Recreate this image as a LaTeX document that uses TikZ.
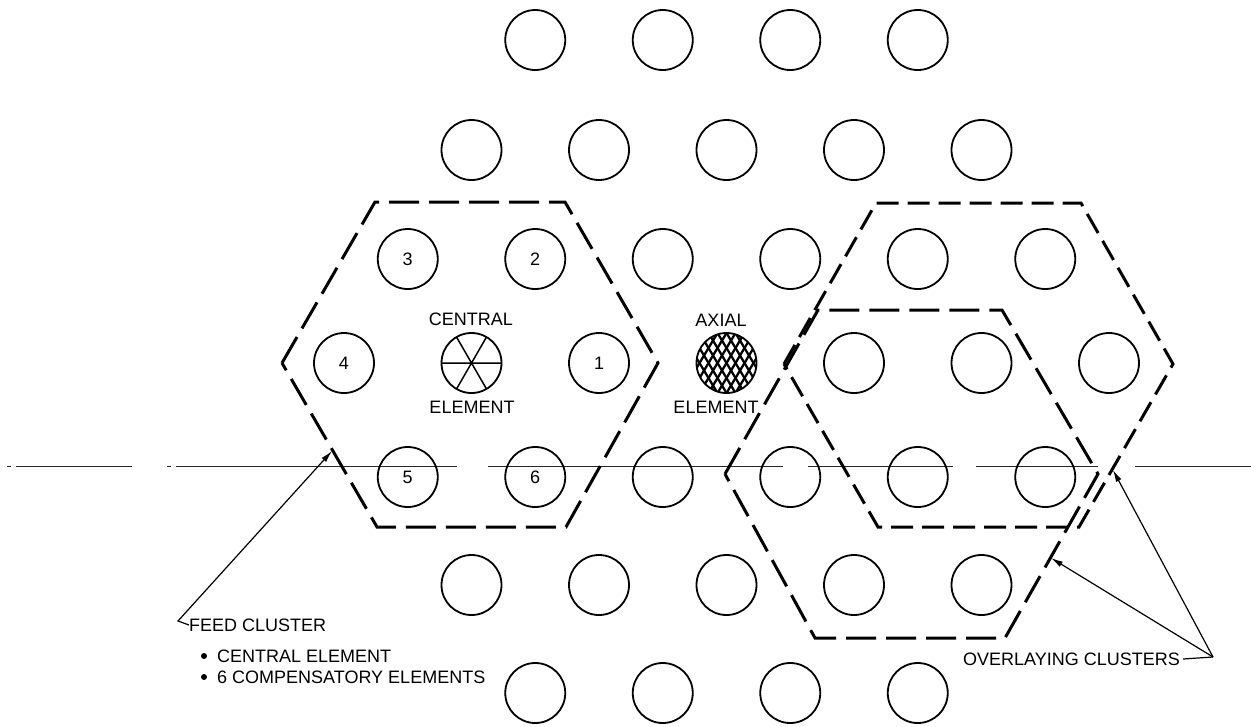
\documentclass[tikz,border=0pt]{standalone}
\usepackage{fontspec}
\setmainfont{Liberation Sans}
\usetikzlibrary{arrows.meta}
\begin{document}
\begin{tikzpicture}[x=1pt,y=-1pt,
  elem/.style={circle,draw,line width=1.8pt,minimum size=60pt,inner sep=0pt,outer sep=0pt,font=\fontsize{18}{18}\selectfont},
  hexdash/.style={line width=3pt,dash pattern=on 30pt off 10pt,line join=miter},
  lbl/.style={font=\fontsize{18}{18}\selectfont,inner sep=0pt},
  lead/.style={line width=1.2pt,-{Latex[length=12pt,width=6pt]}},
  cline/.style={line width=0.9pt,black!85}]
\useasboundingbox (0,0) rectangle (1251,726);
% centre line
\foreach \a/\b in {7/11,16/132,167/171,176/457,488/783,808/953,976/1098,1135/1251}
  \draw[cline] (\a,466) -- (\b,466);
% lattice of elements
\foreach \j in {1,...,4} \node[elem] (r1c\j) at ({407.75+127.5*\j},40) {};
\foreach \i in {1,...,5} \node[elem] (r2c\i) at ({344+127.5*\i},150) {};
\node[elem] (r3c0) at (407.75,259) {3};
\node[elem] (r3c1) at (535.25,259) {2};
\foreach \j in {2,...,5} \node[elem] (r3c\j) at ({407.75+127.5*\j},259) {};
\node[elem] (r4c0) at (344,363) {4};
\node[elem] (central) at (471.5,363) {};
\node[elem] (r4c2) at (599,363) {1};
\node[elem] (axial) at (726.5,363) {};
\foreach \i in {4,...,6} \node[elem] (r4c\i) at ({344+127.5*\i},363) {};
\node[elem] (r5c0) at (407.75,477) {5};
\node[elem] (r5c1) at (535.25,477) {6};
\foreach \j in {2,...,5} \node[elem] (r5c\j) at ({407.75+127.5*\j},477) {};
\foreach \i in {1,...,5} \node[elem] (r6c\i) at ({344+127.5*\i},585) {};
\foreach \j in {1,...,4} \node[elem] (r7c\j) at ({407.75+127.5*\j},693) {};
% central element spokes
\draw[line width=1.5pt] (central.0) -- (central.180)
  (central.60) -- (central.240) (central.120) -- (central.300);
% axial element crosshatch
\begin{scope}
  \clip (axial.center) circle (30pt);
  \foreach \s in {-63,-54,...,63} {
    \draw[line width=2.3pt,shift={(axial.center)}] (\s-21,-35) -- (\s+21,35);
    \draw[line width=2.3pt,shift={(axial.center)}] (\s+21,-35) -- (\s-21,35);
  }
\end{scope}
\node[lbl] (centtop) at (471,319) {CENTRAL};
\node[lbl] (centbot) at (472,407) {ELEMENT};
\node[lbl] (axtop) at (721,320) {AXIAL};
\node[lbl] (axbot) at (716,407) {ELEMENT};
% hexagonal clusters
\draw[hexdash] (282,363) -- (375,202) -- (565,202) -- (658,363) -- (566,527) -- (377,527) -- cycle;
\draw[hexdash,dash pattern=on 22pt off 9pt] (784,364) -- (876,203) -- (1081,203) -- (1173,364) -- (1079,527) -- (878,527) -- cycle;
\draw[hexdash] (725,474) -- (818,310) -- (1002,310) -- (1098,474) -- (1005,638) -- (815,638) -- cycle;
% feed cluster label
\node[lbl,anchor=west] (feed) at (189,625) {FEED CLUSTER};
\node[lbl,anchor=west] (fb1) at (217,656) {CENTRAL ELEMENT};
\node[lbl,anchor=west] (fb2) at (217,677) {6 COMPENSATORY ELEMENTS};
\fill (204,656) circle (3pt);
\fill (204,677) circle (3pt);
\coordinate (feedbend) at (178,621);
\coordinate (feedtip) at (332,451);
\draw[lead] (feed.west) -- (feedbend) -- (feedtip);
% overlaying clusters label
\node[lbl,anchor=west] (over) at (963,659) {OVERLAYING CLUSTERS};
\coordinate (ovhook) at (1213,657);
\coordinate (tipA) at (1113,470);
\coordinate (tipB) at (1051,558);
\draw[line width=1.2pt] ([xshift=3pt]over.east) -- (ovhook);
\draw[lead] (ovhook) -- (tipB);
\draw[lead] (ovhook) -- (tipA);
\end{tikzpicture}
\end{document}
